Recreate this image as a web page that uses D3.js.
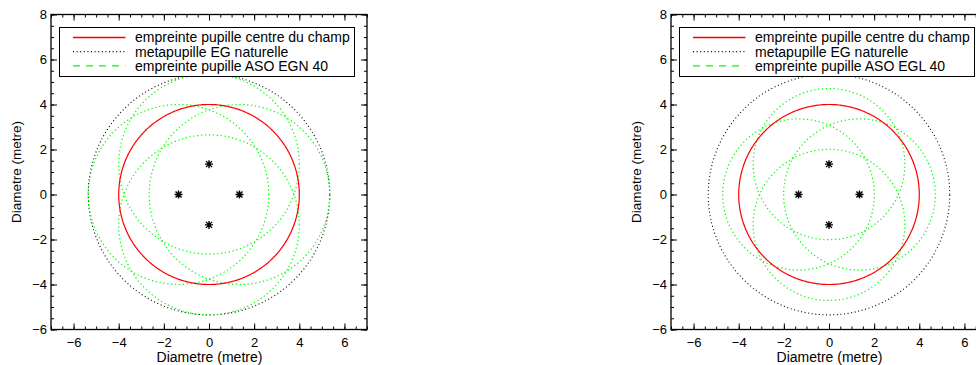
<!DOCTYPE html>
<html>
<head>
<meta charset="utf-8">
<script src="https://cdn.jsdelivr.net/npm/d3@7"></script>
<style>
  html, body { margin: 0; padding: 0; background: #fff; }
  svg { display: block; }
  text { font-family: "Liberation Sans", Arial, Helvetica, sans-serif; fill: #000; }
</style>
</head>
<body>
<svg id="chart" width="976" height="365"></svg>
<script>
// ---------------- data ----------------
const xTicks = [-6, -4, -2, 0, 2, 4, 6];
const yTicks = [-6, -4, -2, 0, 2, 4, 6, 8];
const xDomain = [-7, 7];
const yDomain = [-6, 8];
const starX = [1.35, 0, -1.35, 0];
const starY = [0, 1.35, 0, -1.35];
const pupilRadius = 4;          // empreinte pupille centre du champ
const metaRadius = 5.35;        // metapupille EG naturelle
const asoCenterX = [1.35, 0, -1.35, 0];
const asoCenterY = [0, 1.35, 0, -1.35];
const panelTitles = ["empreinte pupille ASO EGN 40", "empreinte pupille ASO EGL 40"];
const asoRadius = [4, 3.36];    // EGN, EGL footprints
const legendLabels = ["empreinte pupille centre du champ", "metapupille EG naturelle"];
const axisLabel = "Diametre (metre)";

// ---------------- layout ----------------
const panelLeft = [51, 671];
const plotTop = 14.5, plotW = 316, plotH = 315;

const svg = d3.select("#chart");

function drawPanel(idx) {
  const L = panelLeft[idx];
  const x = d3.scaleLinear().domain(xDomain).range([L, L + plotW]);
  const y = d3.scaleLinear().domain(yDomain).range([plotTop + plotH, plotTop]);
  const g = svg.append("g");

  const minorX = d3.range(xDomain[0], xDomain[1] + 0.001, 0.5);
  const minorY = d3.range(yDomain[0], yDomain[1] + 0.001, 0.5);

  // circle path generator via scales
  const angles = d3.range(0, 361, 1).map(a => a * Math.PI / 180);
  const circ = (cx, cy, r) => d3.line()
      .x(a => x(cx + r * Math.cos(a)))
      .y(a => y(cy + r * Math.sin(a)))(angles);

  const plot = g.append("g");
  // metapupille
  plot.append("path").attr("d", circ(0, 0, metaRadius))
    .attr("fill", "none").attr("stroke", "#000").attr("stroke-width", 1.1)
    .attr("stroke-dasharray", "1,2.6");
  // ASO footprints
  asoCenterX.forEach((cx, i) => {
    plot.append("path").attr("d", circ(cx, asoCenterY[i], asoRadius[idx]))
      .attr("fill", "none").attr("stroke", "#00ff00").attr("stroke-width", 1.2)
      .attr("stroke-dasharray", "1.3,2.6");
  });
  // central pupil
  plot.append("path").attr("d", circ(0, 0, pupilRadius))
    .attr("fill", "none").attr("stroke", "#ff0000").attr("stroke-width", 1.2);
  // stars
  const ast = "M-4,0L4,0M0,-4L0,4M-3,-3L3,3M-3,3L3,-3";
  starX.forEach((sx, i) => {
    plot.append("path").attr("d", ast)
      .attr("transform", `translate(${x(sx)},${y(starY[i])})`)
      .attr("fill", "none").attr("stroke", "#000").attr("stroke-width", 1.4);
  });

  // axes
  const ax = (axis, tr) => {
    const a = g.append("g").attr("transform", tr).call(axis);
    a.select(".domain").remove();
    a.selectAll("line").attr("stroke", "#000").attr("stroke-width", 1);
    a.selectAll("text").style("font-size", "13px")
      .style("font-family", '"Liberation Sans", Arial, sans-serif');
    return a;
  };
  const fmt = d => d < 0 ? "\u2212" + Math.abs(d) : String(d);
  const by = plotTop + plotH;
  ax(d3.axisBottom(x).tickValues(minorX).tickSize(-3).tickFormat(""), `translate(0,${by})`);
  ax(d3.axisBottom(x).tickValues(xTicks).tickSize(-6).tickPadding(8).tickFormat(fmt), `translate(0,${by})`);
  ax(d3.axisTop(x).tickValues(minorX).tickSize(-3).tickFormat(""), `translate(0,${plotTop})`);
  ax(d3.axisTop(x).tickValues(xTicks).tickSize(-6).tickFormat(""), `translate(0,${plotTop})`);
  ax(d3.axisLeft(y).tickValues(minorY).tickSize(-3).tickFormat(""), `translate(${L},0)`);
  ax(d3.axisLeft(y).tickValues(yTicks).tickSize(-6).tickPadding(4).tickFormat(fmt), `translate(${L},0)`);
  ax(d3.axisRight(y).tickValues(minorY).tickSize(-3).tickFormat(""), `translate(${L + plotW},0)`);
  ax(d3.axisRight(y).tickValues(yTicks).tickSize(-6).tickFormat(""), `translate(${L + plotW},0)`);

  // frame
  g.append("rect").attr("x", L).attr("y", plotTop).attr("width", plotW).attr("height", plotH)
    .attr("fill", "none").attr("stroke", "#000").attr("stroke-width", 1.3);

  // axis labels
  g.append("text").attr("x", L + plotW / 2 + 0.5).attr("y", 362)
    .attr("text-anchor", "middle").style("font-size", "14px").text(axisLabel);
  g.append("text").attr("transform", `translate(${L - 30},${plotTop + plotH / 2}) rotate(-90)`)
    .attr("text-anchor", "middle").style("font-size", "13.5px").text(axisLabel);

  // legend
  const lg = g.append("g").attr("transform", `translate(${L + 8.5},${27.5})`);
  lg.append("rect").attr("width", 295).attr("height", 49)
    .attr("fill", "#fff").attr("stroke", "#000").attr("stroke-width", 1);
  const items = [
    { label: legendLabels[0], color: "#ff0000", dash: null },
    { label: legendLabels[1], color: "#000", dash: "1,2.6" },
    { label: panelTitles[idx], color: "#00ff00", dash: "7,6" }
  ];
  items.forEach((it, i) => {
    const cy = 10 + i * 14.2;
    const ln = lg.append("line").attr("x1", 13.5).attr("x2", 66).attr("y1", cy).attr("y2", cy)
      .attr("stroke", it.color).attr("stroke-width", 1.3);
    if (it.dash) ln.attr("stroke-dasharray", it.dash);
    lg.append("text").attr("x", 75.5).attr("y", cy + 4.8)
      .style("font-size", "14px").text(it.label);
  });
}

drawPanel(0);
drawPanel(1);
</script>
</body>
</html>
